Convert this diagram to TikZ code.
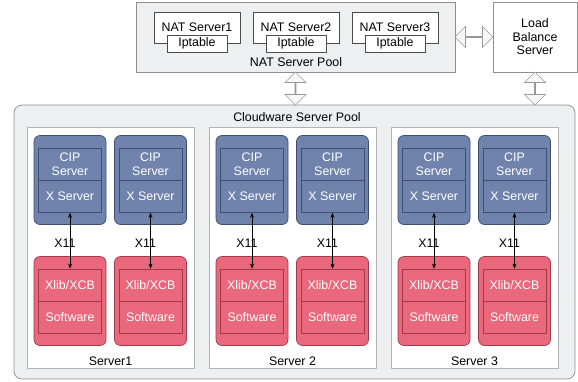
\documentclass[tikz,border=0pt]{standalone}
\usepackage{fontspec}
\setmainfont{Liberation Sans}
\usetikzlibrary{shapes.arrows, arrows.meta, positioning, calc}
\definecolor{cip}{HTML}{7083AD}
\definecolor{cipedge}{HTML}{3F4D6E}
\definecolor{app}{HTML}{E9687C}
\definecolor{appedge}{HTML}{A03A4B}
\definecolor{poolgray}{HTML}{EEEFF1}
\definecolor{pooledge}{HTML}{8E8E8E}

\begin{document}
\begin{tikzpicture}[
    x=1pt, y=-1pt,
    font=\fontsize{12.4}{14.2}\selectfont,
    pool/.style={rectangle, draw=pooledge, fill=poolgray, line width=0.7pt},
    plain/.style={rectangle, draw=#1, fill=white, line width=0.7pt, inner sep=0pt, align=center},
    shell/.style={rectangle, rounded corners=6pt, draw=#1edge, fill=#1, line width=0.7pt,
                  minimum width=72pt, minimum height=89pt},
    part/.style={rectangle, draw=#1edge, fill=#1, text=white, line width=0.7pt,
                 minimum width=63pt, minimum height=32pt, align=center, inner sep=0pt},
    link/.style={double arrow, draw=gray!80, fill=gray!6, line width=0.6pt, inner sep=0pt,
                 minimum width=21pt, double arrow head extend=6pt},
    arr/.style={{Stealth[length=5pt, width=4pt]}-{Stealth[length=5pt, width=4pt]}, line width=0.6pt}
]
\useasboundingbox (0,0) rectangle (578,381);

% Pools
\node[pool, minimum width=319pt, minimum height=70pt] (natpool) at (295.5,37) {};
\node at (296,62) {NAT Server Pool};
\node[plain=pooledge, minimum width=84pt, minimum height=70pt, font=\fontsize{12.4}{13.5}\selectfont]
  (lb) at (535,37) {Load\\Balance\\Server};
\node[pool, rounded corners=8pt, minimum width=561pt, minimum height=274pt] (cloud) at (294.5,242) {};
\node at (297,117) {Cloudware Server Pool};

% NAT servers
\foreach \n/\nx in {1/197, 2/296, 3/395} {
  \node[plain=black!70, minimum width=86pt, minimum height=31pt] (nat\n) at (\nx,27.5) {NAT Server\n};
  \node[plain=black!70, minimum width=60pt, minimum height=17pt] (ipt\n) at (nat\n.south) {Iptable};
}

% Links
\path (natpool.south) -- (natpool.south |- cloud.north)
  node[midway, link, rotate=90, minimum height=33pt] (natlink) {};
\path (natpool.east) -- (lb.west)
  node[midway, link, minimum height=38pt] (lblink) {};
\path (lb.south) -- (lb.south |- cloud.north)
  node[midway, link, rotate=90, minimum height=33pt] (cloudlink) {};

% Servers
\foreach \s/\cx/\name in {1/110.5/Server1, 2/292.5/Server 2, 3/474.5/Server 3} {
  \node[plain=gray!60, minimum width=167pt, minimum height=241pt] (srv\s) at (\cx,247.5) {};
  \node at (\cx,361) {\name};
  \foreach \k/\dx in {a/-40.5, b/40} {
    \node[shell=cip] (cip\s\k) at (\cx+\dx,180) {};
    \node[part=cip] (cipsrv\s\k) at (\cx+\dx,164.5) {CIP\\Server};
    \node[part=cip] (xsrv\s\k) at (\cx+\dx,196.5) {X Server};
    \node[shell=app] (app\s\k) at (\cx+\dx,301) {};
    \node[part=app] (xlib\s\k) at (\cx+\dx,285) {Xlib/XCB};
    \node[part=app] (soft\s\k) at (\cx+\dx,317) {Software};
    \draw[arr] (xsrv\s\k) -- (xlib\s\k) node[pos=0.55, xshift=-5pt] {X11};
  }
}
\end{tikzpicture}
\end{document}
